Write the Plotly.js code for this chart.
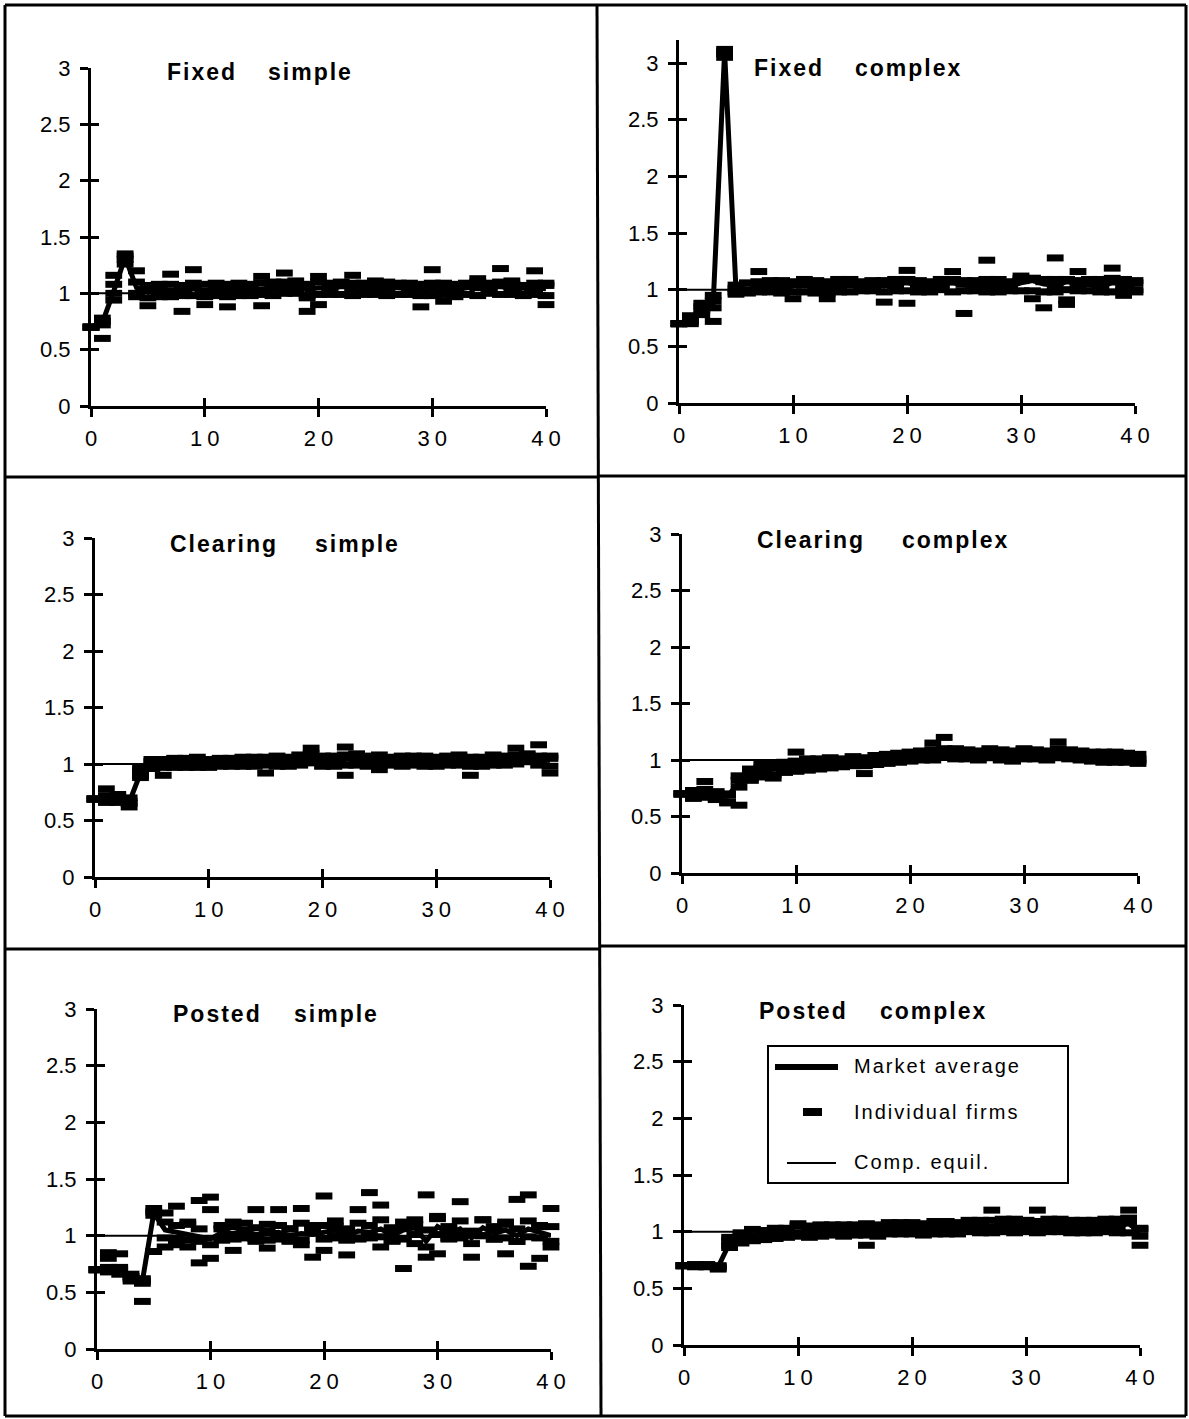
<!DOCTYPE html>
<html>
<head>
<meta charset="utf-8">
<script src="https://cdn.plot.ly/plotly-3.0.1.min.js"></script>
<style>
  html, body { margin: 0; padding: 0; background: #fff; }
  #chart { width: 1189px; height: 1419px; }
  .xaxislayer-above text { letter-spacing: 5px; }
  .annotation-text { letter-spacing: 2px; }
</style>
</head>
<body>
<div id="chart"></div>
<script>
// Price paths (relative to competitive equilibrium) over 40 periods, six market treatments.
const periods = [0,1,2,3,4,5,6,7,8,9,10,11,12,13,14,15,16,17,18,19,20,21,22,23,24,25,26,27,28,29,30,31,32,33,34,35,36,37,38,39,40];
const compEquil = 1;
const xTicks = [0, 10, 20, 30, 40];
const yTicks = [0, 0.5, 1, 1.5, 2, 2.5, 3];
const yTickText = ['0', '0.5', '1', '1.5', '2', '2.5', '3'];

// Fixed, simple
const fixedSimpleAvg = [0.70,0.74,1.02,1.32,1.05,1.01,1.02,1.03,1.01,1.04,1.01,1.03,1.02,1.04,1.03,1.04,1.05,1.05,1.06,1.03,1.05,1.04,1.06,1.05,1.05,1.06,1.05,1.05,1.04,1.03,1.05,1.04,1.03,1.05,1.06,1.05,1.06,1.04,1.00,1.05,1.04];
const fixedSimpleFirmA = [0.70,0.60,0.94,1.35,1.20,0.89,1.03,1.17,0.84,1.06,0.90,1.04,0.88,1.06,1.03,1.15,1.06,1.18,1.05,0.84,1.15,1.05,1.07,1.16,1.04,1.07,1.05,1.06,1.05,0.88,1.21,0.93,1.04,1.06,1.13,1.06,1.22,1.05,0.98,1.20,0.90];
const fixedSimpleFirmB = [0.70,0.72,1.16,1.30,1.10,1.04,0.99,1.01,1.04,1.21,1.02,1.01,1.04,1.03,1.06,0.89,1.04,1.03,1.08,0.96,0.90,1.03,1.08,1.04,1.07,1.03,1.04,1.07,1.03,1.05,1.04,1.06,1.01,1.07,1.05,1.03,1.07,1.11,0.99,1.04,1.07];
const fixedSimpleFirmC = [0.70,0.78,1.00,1.26,0.97,1.07,1.08,0.97,1.07,0.98,1.08,1.09,0.97,1.09,0.98,1.09,1.10,1.00,1.11,1.08,1.10,0.99,1.10,1.09,0.99,1.11,1.10,0.99,1.09,1.08,0.98,1.09,1.08,0.99,1.10,1.09,0.99,1.08,1.07,1.09,0.98];
const fixedSimpleFirmD = [0.70,0.75,1.08,1.33,1.00,0.96,0.97,1.08,0.98,1.09,0.97,0.98,1.08,0.98,1.08,0.99,0.98,1.10,1.00,0.98,0.99,1.09,0.99,0.98,1.09,0.99,0.98,1.09,0.99,0.98,1.09,0.99,0.97,1.09,0.98,1.00,1.10,0.99,1.06,0.99,1.09];

// Fixed, complex
const fixedComplexAvg = [0.70,0.74,0.80,0.88,3.10,1.00,0.99,1.03,1.04,1.02,1.03,1.05,1.04,1.02,1.04,1.05,1.05,1.04,1.03,1.05,1.06,1.04,1.02,1.05,1.06,1.04,1.03,1.05,1.04,1.03,1.06,1.08,1.05,1.04,1.07,1.05,1.04,1.03,1.06,1.05,1.04];
const fixedComplexFirmA = [0.70,0.72,0.78,0.72,3.12,0.98,1.00,1.16,1.03,1.05,0.92,1.06,1.03,0.92,1.05,1.04,1.06,1.05,0.89,1.07,1.17,1.03,1.04,1.06,1.16,0.79,1.05,1.26,1.03,1.05,1.08,0.92,0.84,1.28,0.91,1.16,1.05,1.02,1.19,0.95,1.06];
const fixedComplexFirmB = [0.70,0.75,0.82,0.84,3.08,1.01,0.98,1.02,1.06,1.03,1.05,1.04,1.06,1.03,1.02,1.06,1.04,1.03,1.05,1.04,0.88,1.05,1.01,1.04,1.07,1.05,1.04,1.03,1.06,1.02,1.12,1.10,1.07,1.03,0.87,1.04,1.06,1.05,1.08,1.03,1.00];
const fixedComplexFirmC = [0.70,0.77,0.85,0.95,3.05,0.96,1.06,0.98,1.08,0.97,1.07,0.98,1.08,0.97,1.09,0.98,1.07,0.99,1.08,0.99,1.09,0.98,1.07,1.00,1.09,0.99,1.08,0.98,1.09,1.07,0.99,1.10,0.98,1.09,1.00,1.08,0.99,1.09,0.98,1.09,1.08];
const fixedComplexFirmD = [0.70,0.70,0.88,0.90,3.10,1.04,0.97,1.07,0.98,1.08,0.98,1.09,0.97,1.07,0.98,1.09,0.99,1.08,0.98,1.09,0.99,1.08,0.98,1.09,0.98,1.08,0.99,1.09,0.98,0.99,1.10,0.99,1.09,0.98,1.09,0.99,1.09,0.98,1.10,0.99,0.98];

// Clearing, simple
const clearingSimpleAvg = [0.69,0.70,0.70,0.66,0.92,0.99,0.99,1.00,1.00,1.01,1.00,1.01,1.01,1.02,1.03,1.02,1.03,1.02,1.04,1.06,1.03,1.01,1.04,1.05,1.03,1.04,1.02,1.03,1.04,1.02,1.01,1.03,1.04,1.02,1.03,1.04,1.03,1.05,1.06,1.04,1.03];
const clearingSimpleFirmA = [0.69,0.78,0.66,0.62,0.90,1.02,0.90,1.03,1.01,0.99,1.02,1.00,1.03,1.01,1.05,0.92,1.04,1.01,1.06,1.14,1.02,1.00,1.15,1.06,1.02,0.95,1.04,1.02,1.05,1.03,1.00,1.04,1.06,0.90,1.02,1.05,1.04,1.14,1.06,1.17,0.92];
const clearingSimpleFirmB = [0.69,0.66,0.73,0.70,0.96,0.97,1.01,0.98,1.02,1.03,0.99,1.03,1.00,1.04,1.01,1.04,1.02,1.05,1.03,1.05,1.06,1.03,0.90,1.04,1.05,1.02,1.03,1.05,1.03,1.01,1.03,1.02,1.03,1.04,1.05,1.02,1.01,1.05,1.07,1.03,1.05];
const clearingSimpleFirmC = [0.69,0.72,0.68,0.65,0.94,1.04,0.97,1.05,0.97,1.06,0.97,1.05,0.98,1.06,0.98,1.06,1.07,0.98,1.08,1.09,0.98,1.07,0.99,1.09,0.98,1.08,0.99,1.07,0.99,1.07,0.98,1.07,0.99,1.06,0.98,1.08,0.99,1.08,1.09,1.07,0.98];
const clearingSimpleFirmD = [0.69,0.68,0.71,0.67,0.88,0.96,1.04,0.97,1.05,0.97,1.04,0.98,1.05,0.98,1.06,0.99,0.98,1.06,0.99,1.01,1.07,0.98,1.08,0.99,1.07,0.99,1.06,0.98,1.07,0.98,1.06,0.99,1.08,0.98,1.06,0.99,1.07,1.00,1.02,0.99,1.07];

// Clearing, complex
const clearingComplexAvg = [0.70,0.70,0.72,0.68,0.68,0.80,0.87,0.90,0.92,0.93,0.95,0.96,0.97,0.98,0.97,0.99,0.98,1.00,1.01,1.02,1.03,1.04,1.05,1.07,1.06,1.05,1.04,1.06,1.05,1.03,1.06,1.05,1.04,1.06,1.05,1.04,1.03,1.02,1.03,1.02,1.01];
const clearingComplexFirmA = [0.70,0.68,0.81,0.65,0.62,0.60,0.84,0.93,0.84,0.95,1.07,0.97,0.95,1.00,0.99,0.97,0.88,1.01,1.03,1.00,1.05,1.06,1.15,1.20,1.08,1.03,1.06,1.05,1.07,1.02,1.04,1.08,1.05,1.16,1.06,1.02,1.05,1.04,1.05,1.00,1.01];
const clearingComplexFirmB = [0.70,0.73,0.70,0.72,0.70,0.76,0.90,0.88,0.94,0.91,0.97,0.94,0.99,0.96,0.95,1.01,1.00,0.98,1.00,1.04,1.01,1.03,1.04,1.06,1.04,1.07,1.03,1.08,1.03,1.05,1.09,1.03,1.06,1.04,1.03,1.06,1.02,1.00,1.01,1.04,0.99];
const clearingComplexFirmC = [0.70,0.66,0.74,0.66,0.69,0.86,0.82,0.96,0.87,0.98,0.90,1.01,0.92,1.02,0.94,1.03,0.95,1.04,0.97,1.06,0.99,1.08,1.00,1.10,1.01,1.09,1.00,1.10,1.00,1.08,1.01,1.09,1.00,1.10,1.01,1.08,0.99,1.07,0.98,1.06,0.97];
const clearingComplexFirmD = [0.70,0.72,0.67,0.70,0.63,0.82,0.92,0.85,0.97,0.89,0.99,0.91,1.01,0.93,1.01,0.95,1.02,0.96,1.05,0.98,1.07,1.00,1.09,1.03,1.10,1.01,1.08,1.02,1.09,0.99,1.10,1.01,1.08,1.02,1.09,1.00,1.07,0.98,1.07,0.98,1.05];

// Posted, simple
const postedSimpleAvg = [0.70,0.70,0.68,0.65,0.60,1.20,1.05,1.03,1.02,0.99,0.97,1.03,1.02,1.04,1.01,1.02,1.03,1.00,1.02,1.01,1.03,1.05,1.00,1.04,1.03,1.06,1.00,1.05,1.07,0.95,1.08,1.02,1.06,0.98,1.07,1.02,1.05,1.00,1.06,1.03,1.00];
const postedSimpleFirmA = [0.70,0.85,0.84,0.66,0.62,1.24,1.20,1.26,1.12,1.31,1.34,1.06,1.12,1.05,1.23,1.04,1.23,1.06,1.24,1.05,1.35,1.08,1.04,1.23,1.38,1.27,1.05,1.08,1.10,1.36,1.17,1.06,1.30,1.02,1.14,1.07,1.10,1.32,1.36,1.08,1.24];
const postedSimpleFirmB = [0.70,0.80,0.72,0.62,0.42,0.86,0.90,0.92,0.90,0.76,0.80,0.98,0.87,1.00,0.97,0.89,0.98,0.95,0.92,0.81,0.87,1.00,0.83,0.98,1.00,0.90,0.96,0.71,0.93,0.81,0.84,0.98,1.02,0.81,1.00,0.97,0.84,0.95,0.73,0.80,0.90];
const postedSimpleFirmC = [0.70,0.68,0.66,0.64,0.58,1.18,1.12,0.97,1.10,0.95,1.23,1.09,0.97,1.11,0.95,1.10,1.09,0.96,1.11,1.09,0.97,1.13,0.96,1.11,0.98,1.14,0.95,1.12,1.14,0.90,1.15,0.97,1.13,0.93,1.14,0.97,1.12,0.95,1.13,0.98,1.08];
const postedSimpleFirmD = [0.70,0.72,0.70,0.60,0.60,1.21,0.98,1.09,0.96,1.06,0.92,0.96,1.08,0.98,1.07,0.96,0.97,1.06,0.96,1.07,1.09,0.98,1.06,0.97,1.09,0.99,1.07,0.97,1.01,1.05,1.01,1.08,0.98,1.04,1.00,1.08,0.98,1.06,0.99,1.09,0.95];

// Posted, complex
const postedComplexAvg = [0.70,0.70,0.70,0.69,0.90,0.95,0.96,0.97,0.98,0.99,1.00,1.00,1.01,1.02,1.01,1.02,1.02,1.01,1.03,1.04,1.03,1.02,1.03,1.04,1.03,1.05,1.04,1.05,1.06,1.05,1.06,1.04,1.05,1.06,1.04,1.05,1.04,1.06,1.05,1.07,1.00];
const postedComplexFirmA = [0.70,0.70,0.71,0.68,0.86,0.93,0.96,0.99,1.00,0.98,1.07,1.01,0.99,1.03,1.00,1.04,0.88,1.02,1.04,1.05,1.02,1.04,1.02,1.06,1.02,1.06,1.03,1.19,1.05,1.07,1.05,1.19,1.04,1.08,1.03,1.06,1.05,1.05,1.07,1.19,0.88];
const postedComplexFirmB = [0.70,0.69,0.70,0.70,0.92,0.97,0.95,0.96,1.00,1.01,0.99,1.02,1.03,1.00,1.03,1.01,1.03,1.00,1.05,1.02,1.05,1.01,1.05,1.03,1.05,1.04,1.06,1.04,1.08,1.04,1.07,1.03,1.07,1.05,1.06,1.04,1.03,1.08,1.04,1.09,1.02];
const postedComplexFirmC = [0.70,0.71,0.69,0.67,0.95,0.90,1.02,0.93,1.03,0.95,1.05,0.95,1.06,0.97,1.06,0.97,1.07,0.96,1.08,0.98,1.08,0.97,1.09,0.98,1.08,1.00,1.10,0.99,1.11,0.99,1.10,0.99,1.11,1.00,1.10,0.99,1.10,1.00,1.11,0.99,1.03];
const postedComplexFirmD = [0.70,0.70,0.70,0.69,0.88,0.99,0.92,1.01,0.94,1.03,0.96,1.05,0.96,1.06,0.96,1.06,0.97,1.06,0.98,1.08,0.98,1.07,0.98,1.09,0.98,1.10,0.99,1.10,1.00,1.11,1.00,1.09,1.00,1.11,0.99,1.10,0.99,1.11,0.99,1.12,0.96];

const panelTitles = [
  ['Fixed', 'simple'], ['Fixed', 'complex'],
  ['Clearing', 'simple'], ['Clearing', 'complex'],
  ['Posted', 'simple'], ['Posted', 'complex']
];
const legendLabels = ['Market average', 'Individual firms', 'Comp. equil.'];

const series = [
  { avg: fixedSimpleAvg, firms: [fixedSimpleFirmA, fixedSimpleFirmB, fixedSimpleFirmC, fixedSimpleFirmD] },
  { avg: fixedComplexAvg, firms: [fixedComplexFirmA, fixedComplexFirmB, fixedComplexFirmC, fixedComplexFirmD] },
  { avg: clearingSimpleAvg, firms: [clearingSimpleFirmA, clearingSimpleFirmB, clearingSimpleFirmC, clearingSimpleFirmD] },
  { avg: clearingComplexAvg, firms: [clearingComplexFirmA, clearingComplexFirmB, clearingComplexFirmC, clearingComplexFirmD] },
  { avg: postedSimpleAvg, firms: [postedSimpleFirmA, postedSimpleFirmB, postedSimpleFirmC, postedSimpleFirmD] },
  { avg: postedComplexAvg, firms: [postedComplexFirmA, postedComplexFirmB, postedComplexFirmC, postedComplexFirmD] }
];

// ---- page geometry (pixels) ----
const W = 1189, H = 1419;
const px = p => p / W;
const py = p => 1 - p / H;

// plot frame of each panel: left/right of x-axis, pixel row of y=0 and y=3, top of the value range
const frames = [
  { l: 91,  r: 546,  y0: 406,  y3: 68,   top: 3 },
  { l: 679, r: 1135, y0: 403,  y3: 63,   top: 3.2 },
  { l: 95,  r: 550,  y0: 877,  y3: 538,  top: 3 },
  { l: 682, r: 1138, y0: 873,  y3: 534,  top: 3 },
  { l: 97,  r: 551,  y0: 1349, y3: 1009, top: 3 },
  { l: 684, r: 1140, y0: 1345, y3: 1005, top: 3 }
];
const titlePos = [
  [[165, 72], [266, 72]], [[752, 68], [853, 68]],
  [[168, 544], [313, 544]], [[755, 540], [900, 540]],
  [[171, 1014], [292, 1014]], [[757, 1011], [878, 1011]]
];

const FONT = 'Liberation Sans, Arial, Helvetica, sans-serif';
const traces = [];
const layout = {
  width: W, height: H,
  margin: { l: 0, r: 0, t: 0, b: 0 },
  paper_bgcolor: '#ffffff', plot_bgcolor: 'rgba(0,0,0,0)',
  showlegend: false,
  font: { family: FONT, color: '#000', size: 20 },
  annotations: [], shapes: []
};

frames.forEach((f, i) => {
  const n = i === 0 ? '' : String(i + 1);
  const m = String(i + 7);
  const xa = 'x' + n, ya = 'y' + n;
  const unit = (f.y0 - f.y3) / 3;
  const yTopPx = f.y0 - f.top * unit;

  layout['xaxis' + n] = {
    domain: [px(f.l), px(f.r)], anchor: ya, range: [0, 40], fixedrange: true,
    tickmode: 'array', tickvals: xTicks, ticktext: xTicks.map(String),
    ticks: 'outside', ticklen: 8, tickwidth: 3, tickcolor: '#000',
    showline: true, linewidth: 3, linecolor: '#000',
    showgrid: false, zeroline: false,
    tickfont: { family: FONT, size: 22, color: '#000' }, ticklabelstandoff: 3
  };
  layout['yaxis' + n] = {
    domain: [py(f.y0), py(yTopPx)], anchor: xa, range: [0, f.top], fixedrange: true,
    tickmode: 'array', tickvals: yTicks, ticktext: yTickText,
    ticks: 'outside', ticklen: 8, tickwidth: 3, tickcolor: '#000',
    showline: true, linewidth: 3, linecolor: '#000',
    showgrid: false, zeroline: false,
    tickfont: { family: FONT, size: 22, color: '#000' }, ticklabelstandoff: 5
  };
  // twin axes carry the inner half of each cross-shaped tick
  layout['xaxis' + m] = {
    overlaying: xa, anchor: 'y' + m, range: [0, 40], fixedrange: true,
    tickmode: 'array', tickvals: xTicks, ticks: 'inside', ticklen: 8, tickwidth: 3, tickcolor: '#000',
    showticklabels: false, showline: false, showgrid: false, zeroline: false
  };
  layout['yaxis' + m] = {
    overlaying: ya, anchor: 'x' + m, range: [0, f.top], fixedrange: true,
    tickmode: 'array', tickvals: yTicks, ticks: 'inside', ticklen: 8, tickwidth: 3, tickcolor: '#000',
    showticklabels: false, showline: false, showgrid: false, zeroline: false
  };
  traces.push({ x: [], y: [], xaxis: 'x' + m, yaxis: 'y' + m, mode: 'markers', hoverinfo: 'skip' });

  // competitive equilibrium reference
  traces.push({
    x: [periods[0], periods[periods.length - 1]], y: [compEquil, compEquil],
    xaxis: xa, yaxis: ya, mode: 'lines', line: { color: '#000', width: 2 }, hoverinfo: 'skip'
  });
  // individual firms
  series[i].firms.forEach(firm => {
    traces.push({
      x: periods, y: firm, xaxis: xa, yaxis: ya, mode: 'markers', cliponaxis: false,
      marker: { symbol: 'line-ew', size: 12, color: '#000', line: { width: 7, color: '#000' } },
      hoverinfo: 'skip'
    });
  });
  // market average
  traces.push({
    x: periods, y: series[i].avg, xaxis: xa, yaxis: ya, mode: 'lines',
    line: { color: '#000', width: 5 }, hoverinfo: 'skip'
  });

  // panel titles
  panelTitles[i].forEach((word, k) => {
    const [tx, ty] = titlePos[i][k];
    layout.annotations.push({
      xref: 'paper', yref: 'paper', x: px(tx), y: py(ty),
      xanchor: 'left', yanchor: 'middle', showarrow: false,
      text: '<b>' + word + '</b>',
      font: { family: FONT, size: 23, color: '#000' }
    });
  });
});

// panel frames
const lineShape = (x0, y0, x1, y1, w) => ({
  type: 'line', xref: 'paper', yref: 'paper',
  x0: px(x0), y0: py(y0), x1: px(x1), y1: py(y1),
  line: { color: '#000', width: w }
});
layout.shapes.push(
  lineShape(5, 5, 1186, 5, 3),
  lineShape(5, 1416, 1186, 1416, 3),
  lineShape(5, 5, 5, 1416, 3),
  lineShape(1186, 5, 1186, 1416, 3),
  lineShape(597, 5, 601, 1416, 3),
  lineShape(5, 477, 599, 477, 3),
  lineShape(5, 949, 599, 949, 3),
  lineShape(599, 476, 1186, 476, 3),
  lineShape(599, 946, 1186, 946, 3)
);

// key in the last panel
layout.shapes.push({
  type: 'rect', xref: 'paper', yref: 'paper',
  x0: px(768), y0: py(1183), x1: px(1068), y1: py(1046),
  line: { color: '#000', width: 2 }, fillcolor: '#fff', layer: 'below'
});
layout.shapes.push(lineShape(775, 1067, 838, 1067, 6));
layout.shapes.push(lineShape(803, 1112, 822, 1112, 8));
layout.shapes.push(lineShape(787, 1163, 836, 1163, 2));
const keyRows = [1066, 1112, 1162];
legendLabels.forEach((label, k) => {
  layout.annotations.push({
    xref: 'paper', yref: 'paper', x: px(852), y: py(keyRows[k]),
    xanchor: 'left', yanchor: 'middle', showarrow: false,
    text: label, font: { family: FONT, size: 20, color: '#000' }
  });
});

Plotly.newPlot('chart', traces, layout, { staticPlot: true, displayModeBar: false }).then(() => {
  // letter-spacing adds a trailing gap; nudge the spaced x tick labels back onto their ticks
  document.querySelectorAll('.xaxislayer-above text').forEach(t => t.setAttribute('dx', '2.5'));
});
</script>
</body>
</html>
